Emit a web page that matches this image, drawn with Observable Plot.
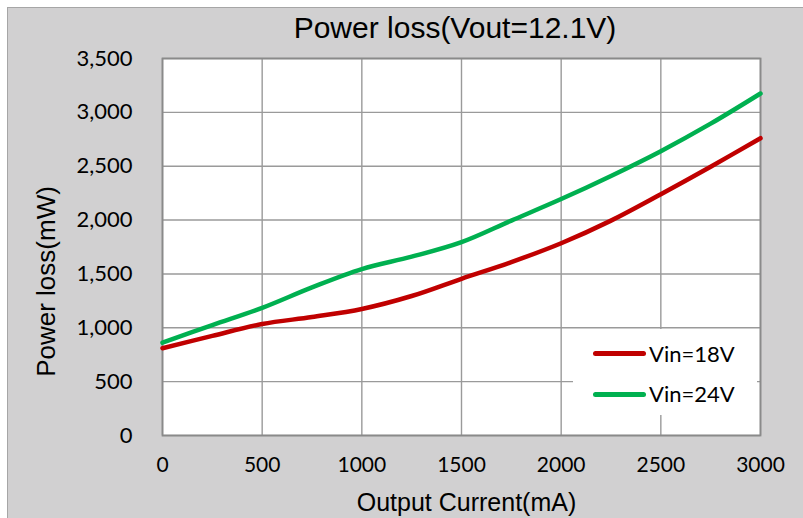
<!DOCTYPE html>
<html><head><meta charset="utf-8">
<script src="https://cdn.jsdelivr.net/npm/d3@7"></script>
<script src="https://cdn.jsdelivr.net/npm/@observablehq/plot@0.6"></script>
<style>
html,body{margin:0;padding:0;background:#fff;}
#wrap{position:relative;width:803px;height:518px;overflow:hidden;}
#bg{position:absolute;left:7px;top:7px;right:0;bottom:0;background:#d1d0d1;border-left:1px solid #a6a6a6;border-top:1px solid #a6a6a6;}
#chart{position:absolute;left:0;top:0;}
#title{position:absolute;left:255px;top:12.6px;width:400px;text-align:center;font:30px/30px "Liberation Sans",Arial,sans-serif;color:#000;white-space:nowrap;}
#legend{position:absolute;left:573px;top:329px;width:184px;height:86px;background:#fff;}
.sw{position:absolute;left:593px;width:53px;height:4.5px;border-radius:2.5px;}
.lt{position:absolute;left:649px;font:22px/22px Lato,"Open Sans",sans-serif;color:#000;white-space:nowrap;}
</style></head>
<body>
<div id="wrap">
  <div id="bg"></div>
  <div id="chart"></div>
  <div id="title">Power loss(Vout=12.1V)</div>
  <div id="legend"></div>
  <div class="sw" style="top:351px;background:#c00000"></div>
  <div class="lt" style="top:342.5px">Vin=18V</div>
  <div class="sw" style="top:392px;background:#00b050"></div>
  <div class="lt" style="top:382.5px">Vin=24V</div>
</div>
<script>
const current = [0, 250, 500, 750, 1000, 1250, 1500, 1750, 2000, 2250, 2500, 2750, 3000];
const vin18 = [810, 925, 1035, 1100, 1175, 1295, 1455, 1610, 1785, 1995, 2240, 2495, 2760];
const vin24 = [862, 1025, 1185, 1375, 1545, 1660, 1795, 1995, 2195, 2410, 2640, 2895, 3175];
const seriesNames = ["Vin=18V", "Vin=24V"];
const seriesColors = ["#c00000", "#00b050"];
const xTicks = [0, 500, 1000, 1500, 2000, 2500, 3000];
const yTicks = [0, 500, 1000, 1500, 2000, 2500, 3000, 3500];

const rows = [];
current.forEach((c, i) => rows.push({current: c, loss: vin18[i], series: seriesNames[0]}));
current.forEach((c, i) => rows.push({current: c, loss: vin24[i], series: seriesNames[1]}));

const chart = Plot.plot({
  width: 803,
  height: 518,
  marginLeft: 162,
  marginRight: 43,
  marginTop: 58,
  marginBottom: 83,
  style: {background: "transparent", fontFamily: "Lato, 'Open Sans', sans-serif", fontSize: "22px", color: "#000"},
  x: {domain: [0, 3000]},
  y: {domain: [0, 3500]},
  color: {domain: seriesNames, range: seriesColors},
  marks: [
    Plot.frame({fill: "#fff", stroke: null}),
    Plot.gridX(xTicks, {stroke: "#9a9a9a", strokeOpacity: 1, strokeWidth: 1.4}),
    Plot.gridY(yTicks, {stroke: "#9a9a9a", strokeOpacity: 1, strokeWidth: 1.4}),
    Plot.frame({stroke: "#8a8a8a", strokeWidth: 1.8}),
    Plot.axisY({ticks: yTicks, tickFormat: d3.format(","), tickSize: 0, tickPadding: 30, label: null, fontSize: 22}),
    Plot.axisX({ticks: xTicks, tickFormat: d => String(d), tickSize: 0, tickPadding: 22, label: null, fontSize: 21}),
    Plot.line(rows, {x: "current", y: "loss", z: "series", stroke: "series", strokeWidth: 4.5, curve: "catmull-rom"}),
    Plot.text(["Power loss(mW)"], {text: d => d, frameAnchor: "left", textAnchor: "middle", lineAnchor: "middle", dx: -116, dy: 34.5, rotate: -90, fontFamily: "'Liberation Sans', Arial, sans-serif", fontSize: 26, fill: "#000"}),
    Plot.text(["Output Current(mA)"], {text: d => d, frameAnchor: "bottom", lineAnchor: "middle", dx: 5, dy: 67, fontFamily: "'Liberation Sans', Arial, sans-serif", fontSize: 25, fill: "#000"})
  ]
});
document.getElementById("chart").appendChild(chart);
</script>
</body></html>
